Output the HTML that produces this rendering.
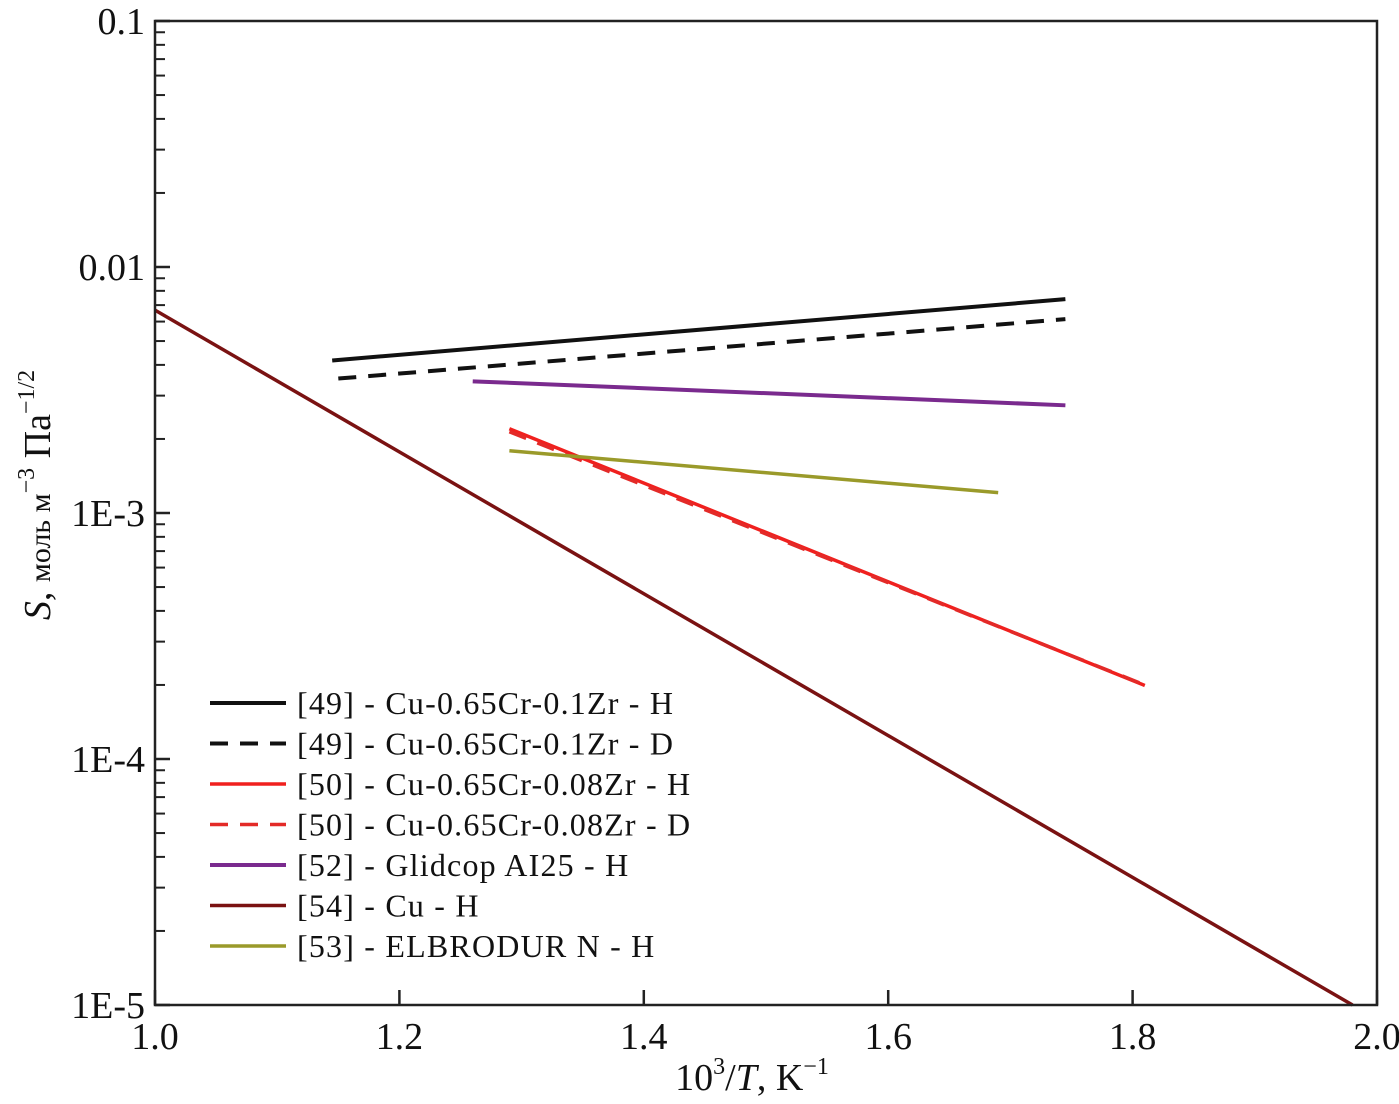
<!DOCTYPE html>
<html><head><meta charset="utf-8"><style>
body{margin:0;background:#fff}
svg{display:block;font-family:"Liberation Serif",serif}
</style></head><body>
<svg id="chart" width="1399" height="1104" viewBox="0 0 1399 1104" xmlns="http://www.w3.org/2000/svg">
<g id="grid"></g>
<g id="series"></g>
<g id="axes"></g>
<g id="legend"></g>
</svg>
<script>
const xTicks=[1.0,1.2,1.4,1.6,1.8,2.0];
const xTickLabels=["1.0","1.2","1.4","1.6","1.8","2.0"];
const yTicks=[0.1,0.01,0.001,0.0001,0.00001];
const yTickLabels=["0.1","0.01","1E-3","1E-4","1E-5"];
const seriesNames=["[49] - Cu-0.65Cr-0.1Zr - H","[49] - Cu-0.65Cr-0.1Zr - D","[50] - Cu-0.65Cr-0.08Zr - H","[50] - Cu-0.65Cr-0.08Zr - D","[52] - Glidcop AI25 - H","[54] - Cu - H","[53] - ELBRODUR N - H"];
const seriesX=[[1.145,1.745],[1.15,1.745],[1.29,1.81],[1.29,1.81],[1.26,1.745],[1.0,1.98],[1.29,1.69]];
const seriesY=[[4.17e-3,7.40e-3],[3.52e-3,6.14e-3],[2.20e-3,1.99e-4],[2.14e-3,2.0e-4],[3.43e-3,2.74e-3],[6.68e-3,1.0e-5],[1.79e-3,1.21e-3]];
const seriesColors=["#111","#111","#f0201e","#e32a28","#7a2a8e","#7a1212","#9a9a2a"];
const seriesDash=["","18,12","","18,12","","",""];
const seriesWidth=[4,4,3.5,3.5,4,3.5,3.5];

const L=155,R=1377,T=21,B=1005;
const X=v=>L+(v-1.0)/(2.0-1.0)*(R-L);
const Y=v=>T+(-1-Math.log10(v))/4*(B-T);
const NS="http://www.w3.org/2000/svg";
function mk(tag,attrs,parent){const e=document.createElementNS(NS,tag);for(const k in attrs)e.setAttribute(k,attrs[k]);parent.appendChild(e);return e;}
const axes=document.getElementById('axes'),ser=document.getElementById('series'),leg=document.getElementById('legend');

for(let i=0;i<seriesNames.length;i++){
  const p=mk('line',{x1:X(seriesX[i][0]),y1:Y(seriesY[i][0]),x2:X(seriesX[i][1]),y2:Y(seriesY[i][1]),stroke:seriesColors[i],'stroke-width':seriesWidth[i],'stroke-dasharray':seriesDash[i]},ser);
  
  
}

const frame=mk('rect',{x:L,y:T,width:R-L,height:B-T,fill:'none',stroke:'#222','stroke-width':2.5},axes);



xTicks.forEach((v,i)=>{
  mk('line',{x1:X(v),y1:B,x2:X(v),y2:B-15,stroke:'#222','stroke-width':2.5},axes);
  const t=mk('text',{x:X(v),y:B+44,'font-size':38,'text-anchor':'middle',fill:'#111'},axes);
  t.textContent=xTickLabels[i];
  
  
});
yTicks.forEach((v,i)=>{
  mk('line',{x1:L,y1:Y(v),x2:L+15,y2:Y(v),stroke:'#222','stroke-width':2.5},axes);
  const t=mk('text',{x:L-10,y:Y(v)+13,'font-size':38,'text-anchor':'end',fill:'#111'},axes);
  t.textContent=yTickLabels[i];
  
  
  if(i<yTicks.length-1){
    for(let m=2;m<=9;m++){const mv=yTicks[i+1]*m;
      mk('line',{x1:L,y1:Y(mv),x2:L+10,y2:Y(mv),stroke:'#222','stroke-width':2},axes);}
  }
});

const xt=mk('text',{x:752,y:1090,'font-size':38,'text-anchor':'middle',fill:'#111'},axes);
xt.innerHTML='10<tspan font-size="24" dy="-16">3</tspan><tspan dy="16">/</tspan><tspan font-style="italic">T</tspan>, K<tspan font-size="24" dy="-16">−1</tspan>';


const yt=mk('text',{x:0,y:0,'font-size':38,'text-anchor':'middle',fill:'#111',transform:'translate(50,495) rotate(-90)'},axes);
yt.innerHTML='<tspan font-style="italic">S</tspan>, <tspan font-size="30">моль м</tspan><tspan font-size="24" dy="-16">−3</tspan><tspan dy="16"> Па</tspan><tspan font-size="24" dy="-16">−1/2</tspan>';



seriesNames.forEach((n,i)=>{
  const y=703+i*40.5;
  const g=mk('g',{},leg);
  
  
  mk('line',{x1:210,y1:y,x2:286,y2:y,stroke:seriesColors[i],'stroke-width':seriesWidth[i],'stroke-dasharray':seriesDash[i]},g);
  const t=mk('text',{x:297,y:y+11,'font-size':32,'letter-spacing':'1.2',fill:'#111'},g);
  t.textContent=n;
});
</script>
</body></html>
